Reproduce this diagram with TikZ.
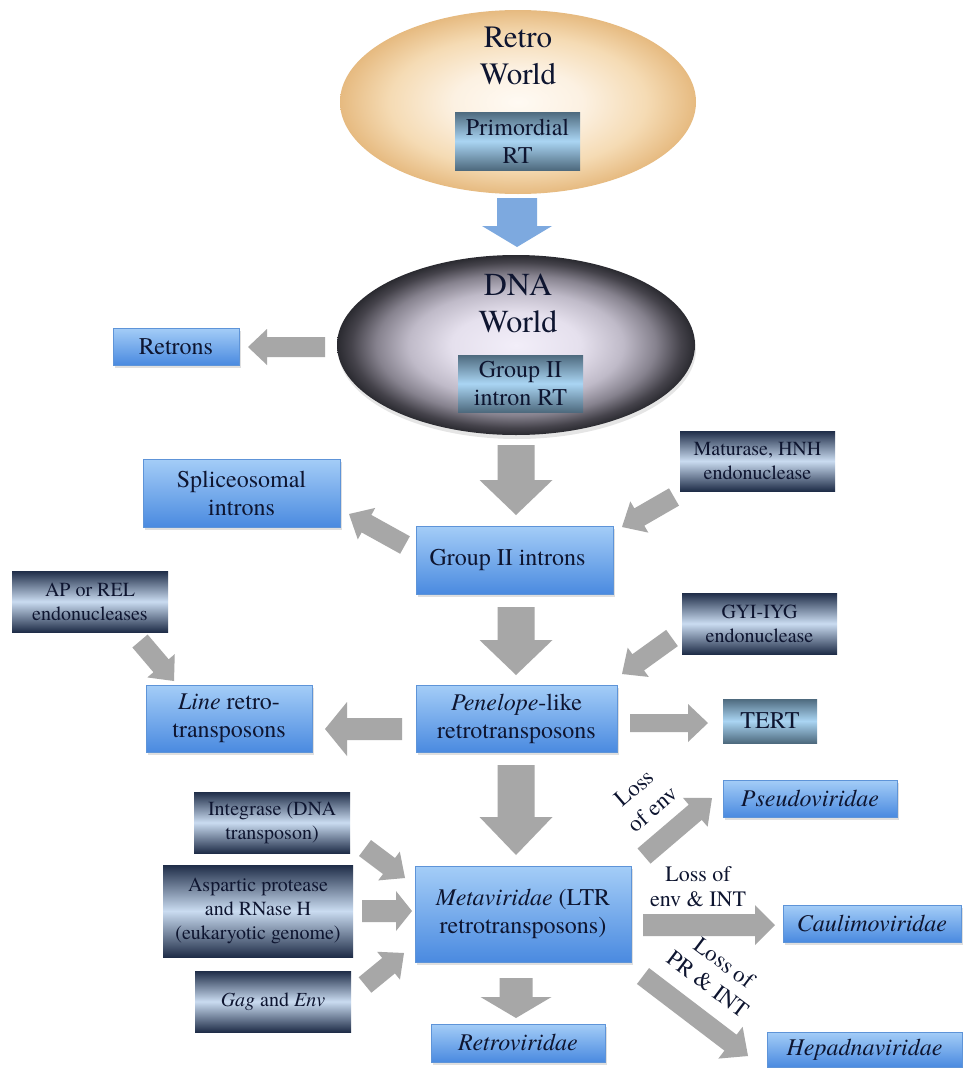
\documentclass[tikz,border=0pt]{standalone}
\usepackage{fontspec}
\IfFontExistsTF{texgyretermes-regular.otf}{%
  \setmainfont{texgyretermes}[Extension=.otf, UprightFont=*-regular, ItalicFont=*-italic, BoldFont=*-bold, BoldItalicFont=*-bolditalic]}{%
  \setmainfont{Liberation Serif}}
\usetikzlibrary{shapes.geometric,calc,shadows}
\definecolor{txt}{HTML}{0E1530}
\definecolor{bluetop}{HTML}{A4CDF7}
\definecolor{bluebot}{HTML}{4A8AE0}
\definecolor{blueedge}{HTML}{5E94D8}
\definecolor{navy}{HTML}{1F2D48}
\definecolor{pale}{HTML}{CADCF1}
\definecolor{rtdark}{HTML}{4E6A7E}
\definecolor{rtlight}{HTML}{AAD5F3}
\definecolor{grayarr}{HTML}{A7A7A7}
\definecolor{bluearr}{HTML}{7DA9DF}
\definecolor{retroa}{HTML}{FFFAF3}
\definecolor{retrob}{HTML}{FCF1E2}
\definecolor{retroc}{HTML}{F5DBB4}
\definecolor{retrod}{HTML}{E6BA80}
\definecolor{dnaa}{HTML}{F2EEF9}
\definecolor{dnab}{HTML}{E5E0ED}
\definecolor{dnac}{HTML}{BFBAC8}
\definecolor{dnad}{HTML}{86828E}
\definecolor{dnae}{HTML}{45434B}
\definecolor{dnaf}{HTML}{2A2A30}
% the path's bounding box maps to the central 25bp radius of the shading
\pgfdeclareradialshading{retroshade}{\pgfpoint{0bp}{0bp}}{color(0bp)=(retroa); color(9bp)=(retrob); color(18bp)=(retroc); color(25bp)=(retrod); color(50bp)=(retrod)}
\pgfdeclareradialshading{dnashade}{\pgfpoint{0bp}{0bp}}{color(0bp)=(dnaa); color(9bp)=(dnab); color(15bp)=(dnac); color(19.5bp)=(dnad); color(23bp)=(dnae); color(25bp)=(dnaf); color(50bp)=(dnaf)}
\newcommand\fsz[2]{\fontsize{#1}{#2}\selectfont}
% block arrow: [colour]{start}{end}{shaft half width}{head half width}{head length}
\newcommand\barrow[6][grayarr]{%
  \path coordinate (bbC) at ($(#3)!#6!(#2)$);
  \fill[#1] ($(#2)!#4!90:(#3)$) -- ($(bbC)!#4!90:(#3)$) -- ($(bbC)!#5!90:(#3)$) -- (#3)
    -- ($(bbC)!#5!-90:(#3)$) -- ($(bbC)!#4!-90:(#3)$) -- ($(#2)!#4!-90:(#3)$) -- cycle;}
\begin{document}
\begin{tikzpicture}[x=1pt,y=-1pt,
  bluebox/.style={rectangle, draw=blueedge, line width=0.6pt, top color=bluetop, bottom color=bluebot,
    inner sep=0pt, align=center, text=txt, font=\fsz{24}{28},
    drop shadow={shadow xshift=2pt, shadow yshift=-3pt, opacity=0.25}},
  darkbox/.style={rectangle, top color=navy, bottom color=navy, middle color=pale,
    inner sep=0pt, align=center, text=txt, font=\fsz{20}{24}},
  rtbox/.style={rectangle, top color=rtdark, bottom color=rtdark, middle color=rtlight,
    inner sep=0pt, align=center, text=txt, font=\fsz{24}{28}},
  lbl/.style={inner sep=0pt, align=center, text=txt, font=\fsz{22}{25}},
  rlbl/.style={inner sep=0pt, align=center, text=txt, font=\fsz{23}{28}},
  world/.style={inner sep=0pt, align=center, text=txt}]
\useasboundingbox (0,0) rectangle (962,1068);
\fill[white] (0,0) rectangle (962,1068);

% worlds
\node[ellipse, minimum width=356pt, minimum height=184pt, inner sep=0pt, shading=retroshade] (retro) at (518,102) {};
\node[world, font=\fsz{31}{37}] (retrotxt) at (518,55.5) {Retro\\World};
\node[rtbox, minimum width=125pt, minimum height=58pt] (prim) at (517.5,141) {Primordial\\RT};

\node[ellipse, minimum width=358pt, minimum height=180pt, inner sep=0pt, shading=dnashade,
  drop shadow={shadow xshift=1pt, shadow yshift=-4pt, opacity=0.2}] (dna) at (516,345) {};
\node[world, font=\fsz{32}{37}] (dnatxt) at (518,303) {DNA\\World};
\node[rtbox, minimum width=125pt, minimum height=57pt] (g2rt) at (520.5,383.5) {Group II\\intron RT};

% boxes
\node[bluebox, minimum width=126pt, minimum height=37pt] (retrons) at (176,346.5) {Retrons};
\node[bluebox, minimum width=197pt, minimum height=68pt] (splice) at (241.5,493) {Spliceosomal\\introns};
\node[bluebox, minimum width=197pt, minimum height=68pt] (g2) at (514.5,560) {Group II introns\hspace*{14pt}};
\node[darkbox, minimum width=155pt, minimum height=60pt] (mat) at (757.5,461) {Maturase, HNH\\endonuclease};
\node[darkbox, minimum width=156pt, minimum height=61pt] (ap) at (90,601.5) {AP or REL\\endonucleases};
\node[darkbox, minimum width=155pt, minimum height=61pt] (gyi) at (759.5,623.5) {GYI-IYG\\endonuclease};
\node[bluebox, minimum width=166pt, minimum height=67pt] (line) at (229,718.5) {\textit{Line} retro-\\transposons};
\node[bluebox, minimum width=201pt, minimum height=67pt] (pen) at (516.5,718.5) {\textit{Penelope}-like\\retrotransposons};
\node[rtbox, minimum width=94pt, minimum height=44pt] (tert) at (770,721) {TERT};
\node[darkbox, minimum width=156pt, minimum height=61pt] (integ) at (272,822.5) {Integrase (DNA\\transposon)};
\node[darkbox, minimum width=190pt, minimum height=92pt] (asp) at (258,911) {Aspartic protease\\and RNase H\\(eukaryotic genome)};
\node[darkbox, minimum width=156pt, minimum height=61pt] (gag) at (273,1001.5) {\textit{Gag} and \textit{Env}};
\node[bluebox, minimum width=216pt, minimum height=96pt] (meta) at (523,914) {\textit{Metaviridae} (LTR\\retrotransposons)};
\node[bluebox, minimum width=174pt, minimum height=38pt] (retrov) at (518,1043) {\textit{Retroviridae}};
\node[bluebox, minimum width=174pt, minimum height=37pt] (pseudo) at (810,798.5) {\textit{Pseudoviridae}};
\node[bluebox, minimum width=178pt, minimum height=37pt] (caul) at (872,923.5) {\textit{Caulimoviridae}};
\node[bluebox, minimum width=195pt, minimum height=35pt] (hepad) at (864.5,1049.5) {\textit{Hepadnaviridae}};

% arrow end points
\coordinate (a1s) at (517,198);   \coordinate (a1e) at (517,247);
\coordinate (a2s) at (325,347);   \coordinate (a2e) at (248,347);
\coordinate (a3s) at (516,445);   \coordinate (a3e) at (516,515);
\coordinate (a4s) at (405,545);   \coordinate (a4e) at (349,514);
\coordinate (a5s) at (674,497);   \coordinate (a5e) at (622,527);
\coordinate (a6s) at (516,607);   \coordinate (a6e) at (516,675);
\coordinate (a7s) at (140,641);   \coordinate (a7e) at (174,681);
\coordinate (a8s) at (672,638);   \coordinate (a8e) at (622,674);
\coordinate (a9s) at (402,729);   \coordinate (a9e) at (325,729);
\coordinate (a10s) at (630,723);  \coordinate (a10e) at (708,723);
\coordinate (a11s) at (516,765);  \coordinate (a11e) at (516,855);
\coordinate (a12s) at (365,848);  \coordinate (a12e) at (405,878);
\coordinate (a13s) at (362,911);  \coordinate (a13e) at (412,911);
\coordinate (a14s) at (365,985);  \coordinate (a14e) at (404,953);
\coordinate (a15s) at (644,856);  \coordinate (a15e) at (712,798);
\coordinate (a16s) at (643,925);  \coordinate (a16e) at (775,925);
\coordinate (a17s) at (643,976);  \coordinate (a17e) at (748,1056);
\coordinate (a18s) at (516,978);  \coordinate (a18e) at (516,1018);

\barrow[bluearr]{a1s}{a1e}{20pt}{35pt}{21pt}
\barrow{a2s}{a2e}{10pt}{18pt}{19pt}
\barrow{a3s}{a3e}{18.5pt}{36.5pt}{35pt}
\barrow{a4s}{a4e}{10pt}{18pt}{20pt}
\barrow{a5s}{a5e}{10pt}{18pt}{20pt}
\barrow{a6s}{a6e}{18.5pt}{36.5pt}{35pt}
\barrow{a7s}{a7e}{10pt}{18pt}{20pt}
\barrow{a8s}{a8e}{10pt}{18pt}{20pt}
\barrow{a9s}{a9e}{11pt}{27pt}{22pt}
\barrow{a10s}{a10e}{9pt}{19pt}{20pt}
\barrow{a11s}{a11e}{18.5pt}{36.5pt}{38pt}
\barrow{a12s}{a12e}{10pt}{18pt}{20pt}
\barrow{a13s}{a13e}{11pt}{20pt}{16pt}
\barrow{a14s}{a14e}{10pt}{18pt}{20pt}
\barrow{a15s}{a15e}{10pt}{19pt}{22pt}
\barrow{a16s}{a16e}{11pt}{20pt}{20pt}
\barrow{a17s}{a17e}{10pt}{20pt}{22pt}
\barrow{a18s}{a18e}{16.5pt}{35.5pt}{21pt}

% labels
\node[rlbl, rotate=40.5] (l1) at (643.5,798.5) {Loss\\of env};
\node[lbl] (l2) at (698,887) {Loss of\\env \& INT};
\node[rlbl, rotate=-37, font=\fsz{23}{27}] (l3) at (716.5,973.5) {Loss of\\PR \& INT};
\end{tikzpicture}
\end{document}
